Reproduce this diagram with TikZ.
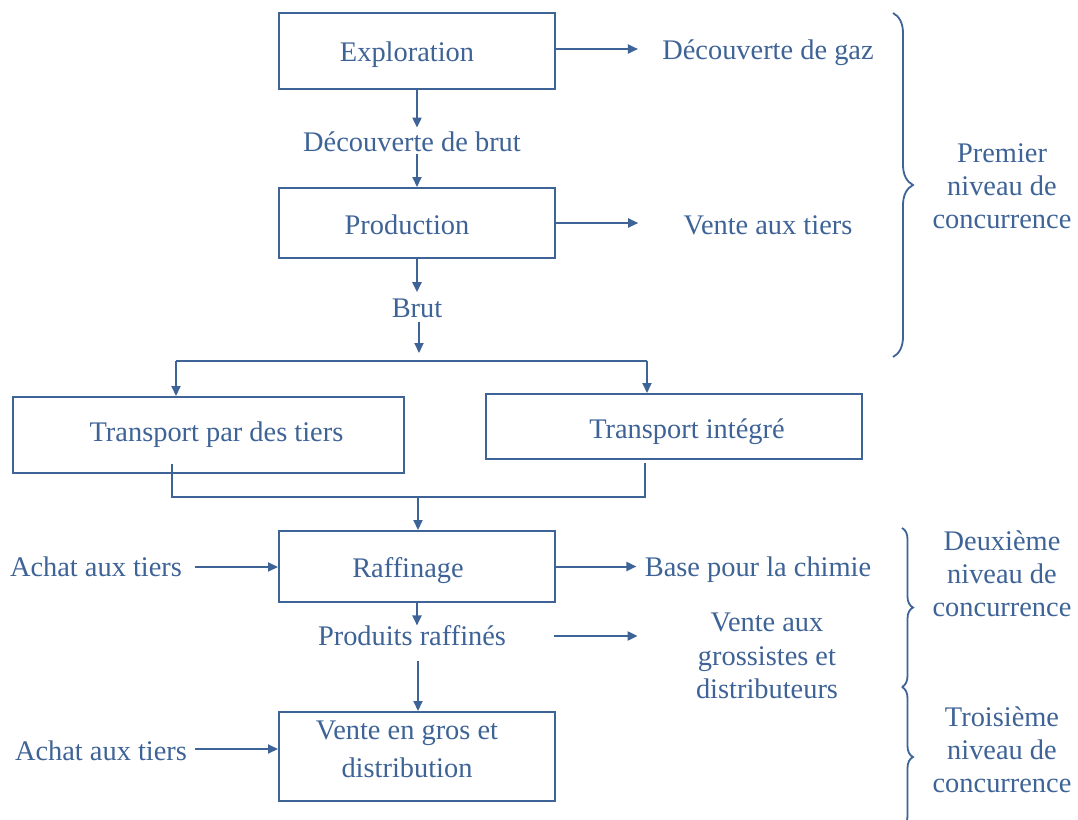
\documentclass[tikz,border=0pt]{standalone}
\usepackage{fontspec}
\setmainfont{Liberation Serif}
\usetikzlibrary{arrows.meta,decorations.pathreplacing}
\definecolor{bl}{RGB}{62,99,150}
% shift text inside a box: #1 horizontal (pt = px), #2 vertical raise
\newcommand\btxt[3]{\hspace*{#1}\raisebox{#2}[\height][\depth]{#3}}
\begin{document}
\begin{tikzpicture}[x=0.5pt,y=-0.5pt,
  font=\fontsize{14.2}{16.6}\selectfont,
  every node/.style={text=bl},
  boxnode/.style={draw=bl, line width=1pt, inner sep=0pt, align=center},
  lbl/.style={inner sep=0pt, align=center},
  arr/.style={draw=bl, line width=1pt, -{Triangle[length=5pt,width=4.5pt]}},
  ln/.style={draw=bl, line width=1pt},
  brc/.style={draw=bl, line width=0.9pt, decorate, decoration={brace, amplitude=#1}}]
\useasboundingbox[fill=white] (0,0) rectangle (1078,820);

% boxes
\node[boxnode, minimum width=138pt, minimum height=38pt] (ex) at (417,51) {\btxt{-10pt}{-2pt}{Exploration}};
\node[boxnode, minimum width=138pt, minimum height=35pt] (pr) at (417,223) {\btxt{-10pt}{-1pt}{Production}};
\node[boxnode, minimum width=195.5pt, minimum height=38pt] (tp) at (208.5,435) {\btxt{8pt}{0pt}{Transport par des tiers}};
\node[boxnode, minimum width=188pt, minimum height=32.5pt] (ti) at (674,426.5) {\btxt{13pt}{-2.5pt}{Transport intégré}};
\node[boxnode, minimum width=138pt, minimum height=35.5pt] (ra) at (417,566.5) {\btxt{-9pt}{-2pt}{Raffinage}};
\node[boxnode, minimum width=138pt, minimum height=44.5pt] (ve) at (417,756.5) {\btxt{-10pt}{2.5pt}{\begin{tabular}{@{}c@{}}Vente en gros et\\[2.4pt]distribution\end{tabular}}};

% labels
\node[lbl] (gaz) at (768,53) {Découverte de gaz};
\node[lbl] (dbrut) at (412,142) {Découverte de brut};
\node[lbl] (vtiers) at (768,225) {Vente aux tiers};
\node[lbl] (brut) at (417,308) {Brut};
\node[lbl] (achat1) at (96,567) {Achat aux tiers};
\node[lbl] (base) at (758,570) {Base pour la chimie};
\node[lbl] (prod) at (412,636) {Produits raffinés};
\node[lbl] (vgros) at (767,656) {Vente aux\\grossistes et\\distributeurs};
\node[lbl] (achat2) at (101,751) {Achat aux tiers};
\node[lbl] (prem) at (1002,186) {Premier\\niveau de\\concurrence};
\node[lbl] (deux) at (1002,574) {Deuxième\\niveau de\\concurrence};
\node[lbl] (trois) at (1002,750) {Troisième\\niveau de\\concurrence};

% coordinates
\coordinate (split) at (419,361);
\coordinate (sl) at (176,361);
\coordinate (sr) at (647,361);
\coordinate (tl) at (172,464);
\coordinate (tr) at (645,463);
\coordinate (ml) at (172,497);
\coordinate (mr) at (645,497);
\coordinate (mm) at (418,497);
\coordinate (b1a) at (893,13);
\coordinate (b1b) at (893,357);
\coordinate (b2a) at (902,528);
\coordinate (b2b) at (902,687);
\coordinate (b3b) at (902,827);

% connectors
\draw[arr, shorten >=12pt] ([yshift=1pt]ex.east) -- ([yshift=1pt]ex.east -| gaz.west);
\draw[arr, shorten >=2pt] (ex.south) -- (ex.south |- dbrut.north);
\draw[arr, shorten <=1pt] (dbrut.south -| pr.north) -- (pr.north);
\draw[arr, shorten >=22.5pt] (pr.east) -- (pr.east -| vtiers.west);
\draw[arr, shorten >=3pt] (pr.south) -- (pr.south |- brut.north);
\draw[arr, shorten <=2pt, shorten >=4pt] (brut.south -| split) -- (split);
\draw[ln] (sl) -- (sr);
\draw[arr] (sl) -- (sl |- tp.north);
\draw[arr] (sr) -- (sr |- ti.north);
\draw[ln] (tl) -- (ml) -- (mr) -- (tr);
\draw[arr] (mm) -- (mm |- ra.north);
\draw[arr, shorten <=6.5pt] (achat1.east) -- (achat1.east -| ra.west);
\draw[arr, shorten >=4pt] (ra.east) -- (ra.east -| base.west);
\draw[arr] (ra.south) -- (ra.south |- prod.north);
\draw[arr, shorten <=7pt] (prod.south -| mm) -- (mm |- ve.north);
\draw[arr, shorten <=-1pt, shorten >=29pt] (prod.east -| ra.east) -- (prod.east -| vgros.west);
\draw[arr, shorten <=4pt] ([yshift=1pt]achat2.east) -- ([yshift=1pt]achat2.east -| ve.west);

% braces
\draw[brc=10pt] (b1a) -- (b1b);
\draw[brc=5.5pt] (b2a) -- (b2b);
\draw[brc=5.5pt] (b2b) -- (b3b);
\end{tikzpicture}
\end{document}
